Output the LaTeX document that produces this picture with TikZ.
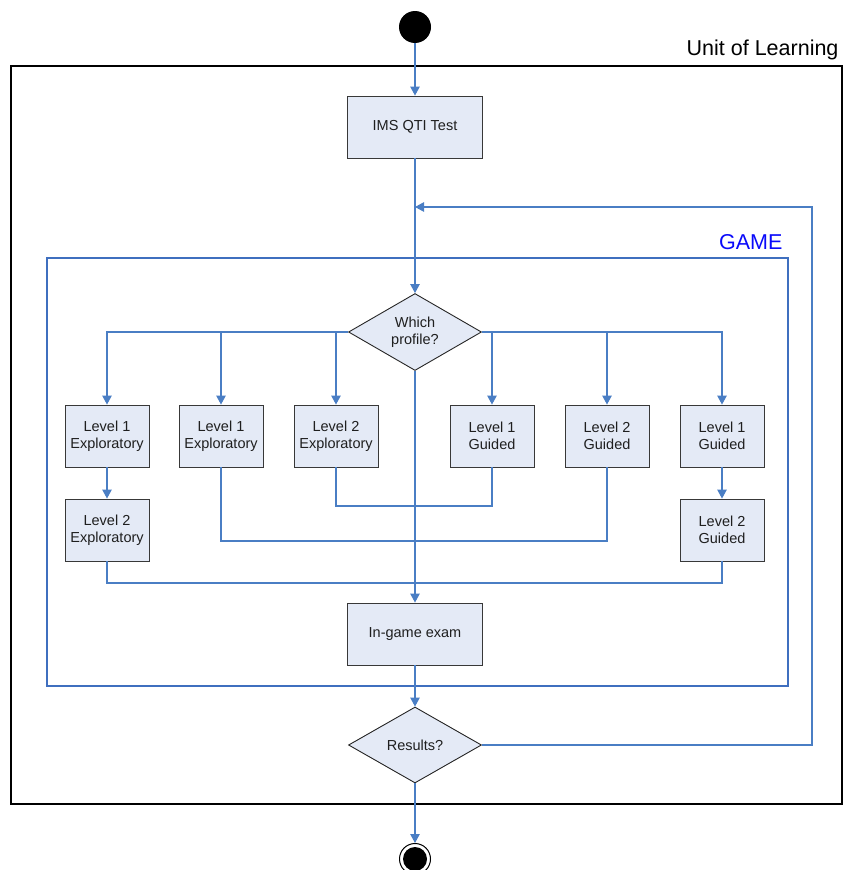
\documentclass[tikz,border=0pt]{standalone}
\usepackage{fontspec}
\setmainfont{Liberation Sans}
\usetikzlibrary{shapes.geometric,arrows.meta}
\definecolor{flow}{HTML}{4A7EC4}
\definecolor{boxfill}{HTML}{E4EAF6}
\definecolor{gameblue}{HTML}{3F6FBF}
\definecolor{labelblue}{HTML}{0A0AFA}
\begin{document}
\begin{tikzpicture}[x=1pt,y=-1pt,
  act/.style={draw=black!78, fill=boxfill, line width=0.9pt, minimum width=84pt, minimum height=62pt, inner sep=0pt, align=center, font=\fontsize{14.5}{17.5}\selectfont, text=black!88},
  wide/.style={act, minimum width=135pt},
  dec/.style={draw=black!85, fill=boxfill, shape=diamond, aspect=1.7, minimum width=133pt, minimum height=77pt, inner sep=0pt, align=center, font=\fontsize{14.5}{17.5}\selectfont, text=black!88, line width=0.9pt},
  flowline/.style={draw=flow, line width=1.1pt},
  arr/.style={flowline, -{Triangle[width=9.5pt,length=9pt]}},
  frame/.style={draw=black, line width=2pt, inner sep=0pt, anchor=north west},
  gameframe/.style={draw=gameblue, line width=1.8pt, inner sep=0pt, anchor=north west},
]
\useasboundingbox (0,0) rectangle (843,870);

% frames
\node[frame, minimum width=831pt, minimum height=738pt] (uol) at (10,65) {};
\node[anchor=base east, font=\fontsize{21.5}{24}\selectfont] (uoltxt) at (842,55) {Unit of Learning};
\node[gameframe, minimum width=741pt, minimum height=428pt] (game) at (46,257) {};
\node[anchor=base east, font=\fontsize{21.5}{24}\selectfont, text=labelblue] (gametxt) at (786,249) {GAME};

% start / end
\node[circle, fill=black, minimum size=32pt, inner sep=0pt] (start) at (415,27) {};
\node[circle, draw=black, line width=1pt, fill=white, minimum size=31pt, inner sep=0pt] (end) at (415,859) {};
\node[circle, fill=black, minimum size=24pt, inner sep=0pt] (endin) at (415,859) {};

% activities
\node[wide] (ims) at (415,127) {IMS QTI Test};
\node[dec] (wp) at (415,332) {Which\\profile?};
\node[act] (b1) at (107,436) {Level 1\\Exploratory};
\node[act] (b2) at (221,436) {Level 1\\Exploratory};
\node[act] (b3) at (336,436) {Level 2\\Exploratory};
\node[act] (b4) at (492,436) {Level 1\\Guided};
\node[act] (b5) at (607,436) {Level 2\\Guided};
\node[act] (b6) at (722,436) {Level 1\\Guided};
\node[act] (b7) at (107,530) {Level 2\\Exploratory};
\node[act] (b8) at (722,530) {Level 2\\Guided};
\node[wide] (exam) at (415,634) {In-game exam};
\node[dec, minimum height=76pt] (res) at (415,745) {Results?};

% junction coordinates
\coordinate (j1) at (415,506);
\coordinate (j2) at (415,541);
\coordinate (j3) at (415,583);
\coordinate (lp1) at (812,745);
\coordinate (lp2) at (812,207);
\coordinate (lp3) at (415,207);

% connectors
\draw[arr] (start) -- (ims);
\draw[arr] (ims) -- (wp);
\draw[arr] (wp.west) -| (b1.north);
\draw[arr] (wp.west) -| (b2.north);
\draw[arr] (wp.west) -| (b3.north);
\draw[arr] (wp.east) -| (b4.north);
\draw[arr] (wp.east) -| (b5.north);
\draw[arr] (wp.east) -| (b6.north);
\draw[arr] (b1) -- (b7);
\draw[arr] (b6) -- (b8);
\draw[flowline] (b3.south) |- (j1) -| (b4.south);
\draw[flowline] (b2.south) |- (j2) -| (b5.south);
\draw[flowline] (b7.south) |- (j3) -| (b8.south);
\draw[arr] (wp.south) -- (exam.north);
\draw[arr] (exam) -- (res);
\draw[arr] (res) -- (end);
\draw[arr] (res.east) -- (lp1) -- (lp2) -- (lp3);
\end{tikzpicture}
\end{document}
